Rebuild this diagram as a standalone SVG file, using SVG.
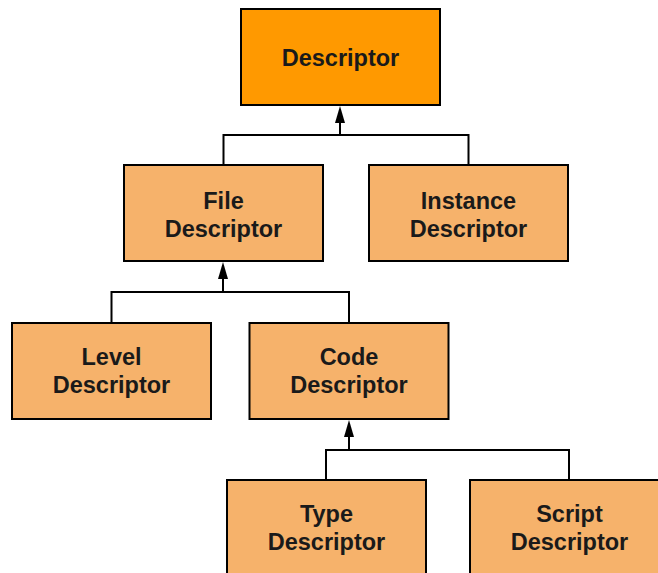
<svg xmlns="http://www.w3.org/2000/svg" width="658" height="573" viewBox="0 0 658 573">
  <style>
    .box { fill: #F6B26B; stroke: #000; stroke-width: 2; }
    .root { fill: #FF9900; }
    .label { font-family: "Liberation Sans", Arial, sans-serif; font-weight: bold; font-size: 23.5px; fill: #1a1a1a; text-anchor: middle; }
    .wire { fill: none; stroke: #000; stroke-width: 2; }
    .head { fill: #000; }
  </style>
  <defs>
    <!-- upward arrowhead, tip at the origin -->
    <path id="head" class="head" d="M0,0 L5,17 L-5,17 Z"/>
  </defs>
  <rect width="658" height="573" fill="#fff"/>

  <g id="connectors">
    <!-- Descriptor <- File, Instance -->
    <path class="wire" d="M223.5,165 V135 H468.5 V165"/>
    <path class="wire" d="M340,135 V110"/>
    <use href="#head" x="340" y="106"/>
    <!-- File <- Level, Code -->
    <path class="wire" d="M111.5,323 V292 H349 V323"/>
    <path class="wire" d="M223,292 V266"/>
    <use href="#head" x="223" y="262"/>
    <!-- Code <- Type, Script -->
    <path class="wire" d="M326,480 V450 H569 V480"/>
    <path class="wire" d="M349,450 V424"/>
    <use href="#head" x="349" y="420"/>
  </g>

  <g id="descriptor">
    <rect class="box root" x="241" y="9" width="199" height="96"/>
    <text class="label" x="340.5" y="66">Descriptor</text>
  </g>

  <g id="file-descriptor">
    <rect class="box" x="124" y="165" width="199" height="96"/>
    <text class="label" x="223.5" y="209">File</text>
    <text class="label" x="223.5" y="237">Descriptor</text>
  </g>

  <g id="instance-descriptor">
    <rect class="box" x="369" y="165" width="199" height="96"/>
    <text class="label" x="468.5" y="209">Instance</text>
    <text class="label" x="468.5" y="237">Descriptor</text>
  </g>

  <g id="level-descriptor">
    <rect class="box" x="12" y="323" width="199" height="96"/>
    <text class="label" x="111.5" y="365">Level</text>
    <text class="label" x="111.5" y="393">Descriptor</text>
  </g>

  <g id="code-descriptor">
    <rect class="box" x="249.5" y="323" width="199" height="96"/>
    <text class="label" x="349" y="365">Code</text>
    <text class="label" x="349" y="393">Descriptor</text>
  </g>

  <g id="type-descriptor">
    <rect class="box" x="227" y="480" width="199" height="100"/>
    <text class="label" x="326.5" y="522">Type</text>
    <text class="label" x="326.5" y="550">Descriptor</text>
  </g>

  <g id="script-descriptor">
    <rect class="box" x="470" y="480" width="199" height="100"/>
    <text class="label" x="569.5" y="522">Script</text>
    <text class="label" x="569.5" y="550">Descriptor</text>
  </g>
</svg>
